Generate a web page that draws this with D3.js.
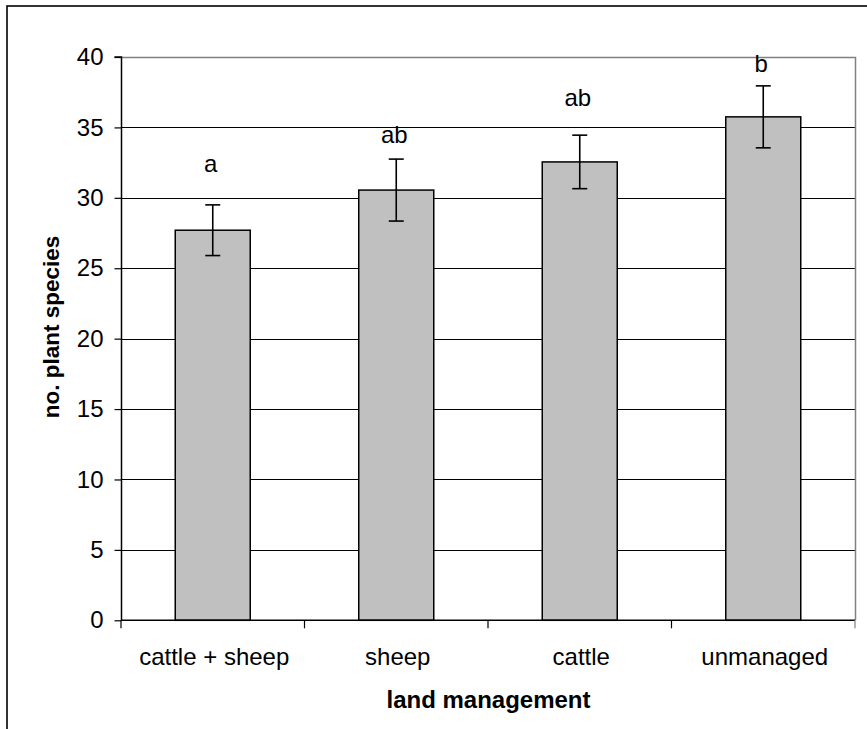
<!DOCTYPE html>
<html>
<head>
<meta charset="utf-8">
<script src="https://cdn.jsdelivr.net/npm/d3@7/dist/d3.min.js"></script>
<style>
  html, body { margin: 0; padding: 0; background: #fff; }
  svg { display: block; }
  text { font-family: "Liberation Sans", Arial, sans-serif; fill: #000; }
</style>
</head>
<body>
<svg id="chart" width="867" height="729"></svg>
<script>
const categories = ["cattle + sheep", "sheep", "cattle", "unmanaged"];
const means = [27.7, 30.55, 32.55, 35.75];
const errors = [1.8, 2.2, 1.9, 2.2];
const groupLetters = ["a", "ab", "ab", "b"];
const letterY = [31.8, 33.9, 36.5, 38.9];
const yTicks = [0, 5, 10, 15, 20, 25, 30, 35, 40];
const xTitle = "land management";
const yTitle = "no. plant species";

const W = 867, H = 729;
const plot = { left: 121, right: 855, top: 57, bottom: 620.3 };
const svg = d3.select("#chart");

// outer chart border (extends beyond the visible frame on right & bottom)
svg.append("rect")
  .attr("x", 7).attr("y", 6).attr("width", W + 20).attr("height", H + 20)
  .attr("fill", "none").attr("stroke", "#000").attr("stroke-width", 1.6);

const x = d3.scaleBand().domain(categories).range([plot.left, plot.right]).paddingInner(0).paddingOuter(0);
const y = d3.scaleLinear().domain([0, 40]).range([plot.bottom, plot.top]);
const barW = 75;

// gridlines
svg.append("g").selectAll("line").data(yTicks.filter(t => t > 0 && t < 40)).join("line")
  .attr("x1", plot.left).attr("x2", plot.right)
  .attr("y1", d => Math.round(y(d)) + 0.5).attr("y2", d => Math.round(y(d)) + 0.5)
  .attr("stroke", "#000").attr("stroke-width", 1);

// plot area border (gray) top and right
svg.append("path")
  .attr("d", `M${plot.left},${Math.round(y(40)) + 0.5}H${plot.right + 0.5}V${plot.bottom}`)
  .attr("fill", "none").attr("stroke", "#808080").attr("stroke-width", 1.5);

// bars
svg.append("g").selectAll("rect").data(categories).join("rect")
  .attr("x", (d) => x(d) + x.bandwidth() / 2 - barW / 2)
  .attr("width", barW)
  .attr("y", (d, i) => y(means[i]))
  .attr("height", (d, i) => y(0) - y(means[i]))
  .attr("fill", "#c0c0c0").attr("stroke", "#000").attr("stroke-width", 1.5);

// error bars
const eb = svg.append("g").attr("stroke", "#000").attr("stroke-width", 1.6);
categories.forEach((c, i) => {
  const cx = x(c) + x.bandwidth() / 2;
  eb.append("line").attr("x1", cx).attr("x2", cx).attr("y1", y(means[i] + errors[i])).attr("y2", y(means[i] - errors[i]));
  eb.append("line").attr("x1", cx - 7.5).attr("x2", cx + 7.5).attr("y1", y(means[i] + errors[i])).attr("y2", y(means[i] + errors[i]));
  eb.append("line").attr("x1", cx - 7.5).attr("x2", cx + 7.5).attr("y1", y(means[i] - errors[i])).attr("y2", y(means[i] - errors[i]));
});

// significance letters
svg.append("g").selectAll("text").data(groupLetters).join("text")
  .attr("x", (d, i) => x(categories[i]) + x.bandwidth() / 2 - 2)
  .attr("y", (d, i) => y(letterY[i]))
  .attr("text-anchor", "middle").attr("font-size", 24)
  .text(d => d);

// y axis
const yAxis = d3.axisLeft(y).tickValues(yTicks).tickSize(7).tickPadding(11).tickFormat(d3.format("d"));
const gy = svg.append("g").attr("transform", `translate(${plot.left + 0.5},0)`).call(yAxis);
gy.select(".domain").attr("stroke", "#000").attr("stroke-width", 1.5).attr("d", `M-7,${plot.top}H0V${plot.bottom}`);
gy.selectAll(".tick line").attr("stroke", "#000").attr("stroke-width", 1.2);
gy.selectAll(".tick text").attr("font-size", 24).attr("font-family", "Liberation Sans, Arial, sans-serif").attr("fill", "#000");

// x axis (ticks at category boundaries)
const boundaries = categories.map(c => x(c)).concat([plot.right]);
const gx = svg.append("g");
gx.append("line").attr("x1", plot.left).attr("x2", plot.right).attr("y1", plot.bottom).attr("y2", plot.bottom)
  .attr("stroke", "#000").attr("stroke-width", 1.5);
gx.selectAll("line.tk").data(boundaries).join("line").attr("class", "tk")
  .attr("x1", d => d).attr("x2", d => d).attr("y1", plot.bottom).attr("y2", plot.bottom + 8)
  .attr("stroke", (d, i) => i === boundaries.length - 1 ? "#808080" : "#000").attr("stroke-width", 1.2);
gx.selectAll("text").data(categories).join("text")
  .attr("x", d => x(d) + x.bandwidth() / 2 + 1.5)
  .attr("y", 665)
  .attr("text-anchor", "middle").attr("font-size", 24)
  .text(d => d);

// axis titles
svg.append("text").attr("x", (plot.left + plot.right) / 2 + 0.5).attr("y", 708)
  .attr("text-anchor", "middle").attr("font-size", 24).attr("font-weight", "bold").text(xTitle);
svg.append("text").attr("transform", `translate(58.5,${327}) rotate(-90)`)
  .attr("text-anchor", "middle").attr("font-size", 22.5).attr("font-weight", "bold").text(yTitle);
</script>
</body>
</html>
